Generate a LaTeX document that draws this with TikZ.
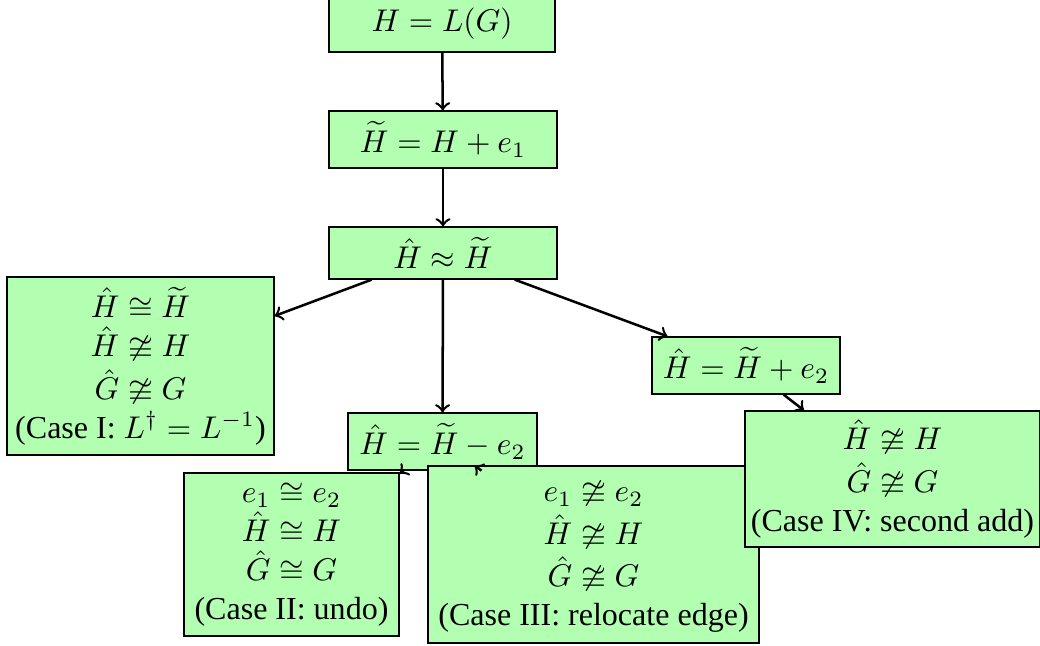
\documentclass[tikz,border=0pt]{standalone}
\usepackage{amssymb}
\usepackage[no-math]{fontspec}
\setmainfont{Liberation Serif}
\def\px{0.3185pt}
\tikzset{
  box/.style={draw=black, fill=green!30, align=center, inner sep=0pt,
    font=\fontsize{10.2}{12.4}\selectfont},
  arr/.style={->, thick}
}
\begin{document}
\begin{tikzpicture}[x=0.3185pt, y=-0.3185pt]
\useasboundingbox (0,0) rectangle (1040,646);
\node[box, minimum width=226*\px, minimum height=56*\px] (b1) at (442,24) {$H = L(G)$};
\node[box, minimum width=228*\px, minimum height=57*\px] (b2) at (443,139.5) {$\widetilde{H} = H + e_1$};
\node[box, minimum width=228*\px, minimum height=52*\px] (b3) at (443,253) {$\hat{H} \approx \widetilde{H}$};
\node[box, minimum width=267*\px, minimum height=178*\px] (c1) at (140.5,366)
  {$\hat{H} \cong \widetilde{H}$\\ $\hat{H} \ncong H$\\ $\hat{G} \ncong G$\\ (Case I: $L^{\dagger} = L^{-1}$)};
\node[box, minimum width=188*\px, minimum height=57*\px] (add) at (746,365.5) {$\hat{H} = \widetilde{H} + e_2$};
\node[box, minimum width=189*\px, minimum height=57*\px] (sub) at (442.5,441.5) {$\hat{H} = \widetilde{H} - e_2$};
\node[box, minimum width=215*\px, minimum height=163*\px] (c2) at (291.5,554.5)
  {$e_1 \cong e_2$\\ $\hat{H} \cong H$\\ $\hat{G} \cong G$\\ (Case II: undo)};
\node[box, minimum width=331*\px, minimum height=177*\px] (c3) at (593.5,554.5)
  {$e_1 \ncong e_2$\\ $\hat{H} \ncong H$\\ $\hat{G} \ncong G$\\ (Case III: relocate edge)};
\node[box, minimum width=295*\px, minimum height=136*\px] (c4) at (892.5,479)
  {$\hat{H} \ncong H$\\ $\hat{G} \ncong G$\\ (Case IV: second add)};
\draw[arr] (b1) -- (b2);
\draw[arr] (b2) -- (b3);
\draw[arr] (b3) -- (c1);
\draw[arr] (b3) -- (sub);
\draw[arr] (b3) -- (add);
\draw[arr] (sub) -- (c2);
\draw[arr] (sub) -- (c3);
\draw[arr] (add) -- (c4);
\end{tikzpicture}
\end{document}
